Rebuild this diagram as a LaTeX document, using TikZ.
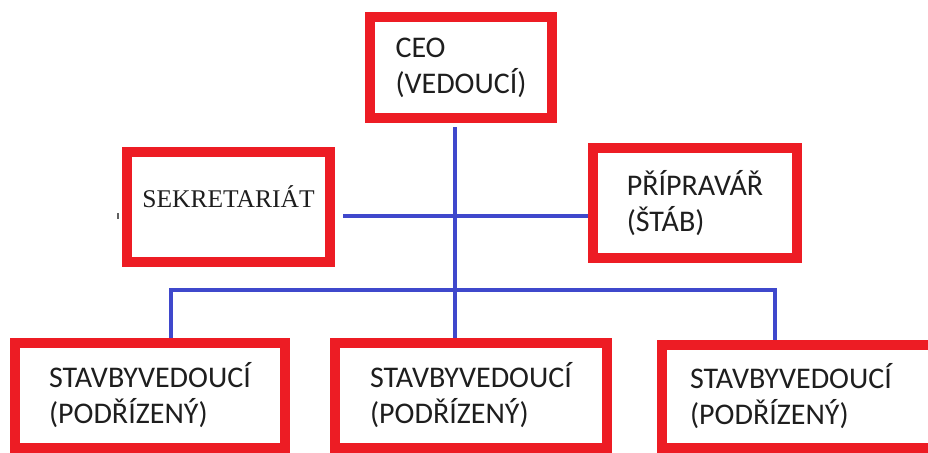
\documentclass[tikz,border=0pt]{standalone}
\usepackage{fontspec}
\setmainfont{Carlito}
\newfontfamily\timesfont{Liberation Serif}
\definecolor{boxred}{HTML}{ED1C24}
\definecolor{linkblue}{HTML}{3F48CC}
\definecolor{ink}{HTML}{1E1E1E}
\begin{document}
\begin{tikzpicture}[x=1pt,y=-1pt,
  orgbox/.style={draw=boxred, line width=10pt, fill=white, inner sep=0pt, outer sep=0pt,
    align=left, text=ink, font=\fontsize{30}{36}\selectfont},
  link/.style={draw=linkblue, line width=4.5pt}]
  % page
  \fill[white] (0,0) rectangle (928,452);
  \useasboundingbox (0,0) rectangle (928,452);

  % boxes (sizes measured on the border centre line)
  \node[orgbox, minimum width=182pt, minimum height=101pt] (ceo) at (461,67.5)
    {CEO\\(VEDOUCÍ)};
  \node[orgbox, minimum width=203pt, minimum height=110pt,
        font=\timesfont\fontsize{25.5}{30}\selectfont] (sek) at (228.5,207)
    {SEKRETARIÁT\\[-10pt]\mbox{}};
  \node[orgbox, minimum width=204pt, minimum height=110pt] (pri) at (695,203)
    {PŘÍPRAVÁŘ\\(ŠTÁB)};
  \node[orgbox, minimum width=270pt, minimum height=105pt] (b1) at (150,395.5)
    {STAVBYVEDOUCÍ\\(PODŘÍZENÝ)};
  \node[orgbox, minimum width=272pt, minimum height=105pt] (b2) at (471,395.5)
    {STAVBYVEDOUCÍ\\(PODŘÍZENÝ)};
  % the right-hand box runs past the page edge
  \node[orgbox, minimum width=300pt, minimum height=103pt, anchor=west] (b3) at (662,396.5)
    {STAVBYVEDOUCÍ\hspace*{42pt}\\(PODŘÍZENÝ)};

  % junction points of the connector tree
  \coordinate (hub) at (455,216);
  \coordinate (bus) at (455,290);
  \coordinate (dropL) at (171,290);
  \coordinate (dropR) at (775,290);

  % connectors
  \draw[link, shorten <=9pt] (ceo.south -| bus) -- (bus);
  \draw[link, shorten <=13pt, shorten >=5pt] (sek.east |- hub) -- (pri.west |- hub);
  \draw[link, line join=miter, shorten <=5pt, shorten >=5pt]
    (b1.north -| dropL) -- (dropL) -- (dropR) -- (b3.north -| dropR);
  \draw[link, shorten >=5pt] (bus) -- (b2.north -| bus);

  % stray tick left of the secretariat box
  \draw[line width=1.5pt, ink!70] (118,213) -- (118,219);
\end{tikzpicture}
\end{document}
